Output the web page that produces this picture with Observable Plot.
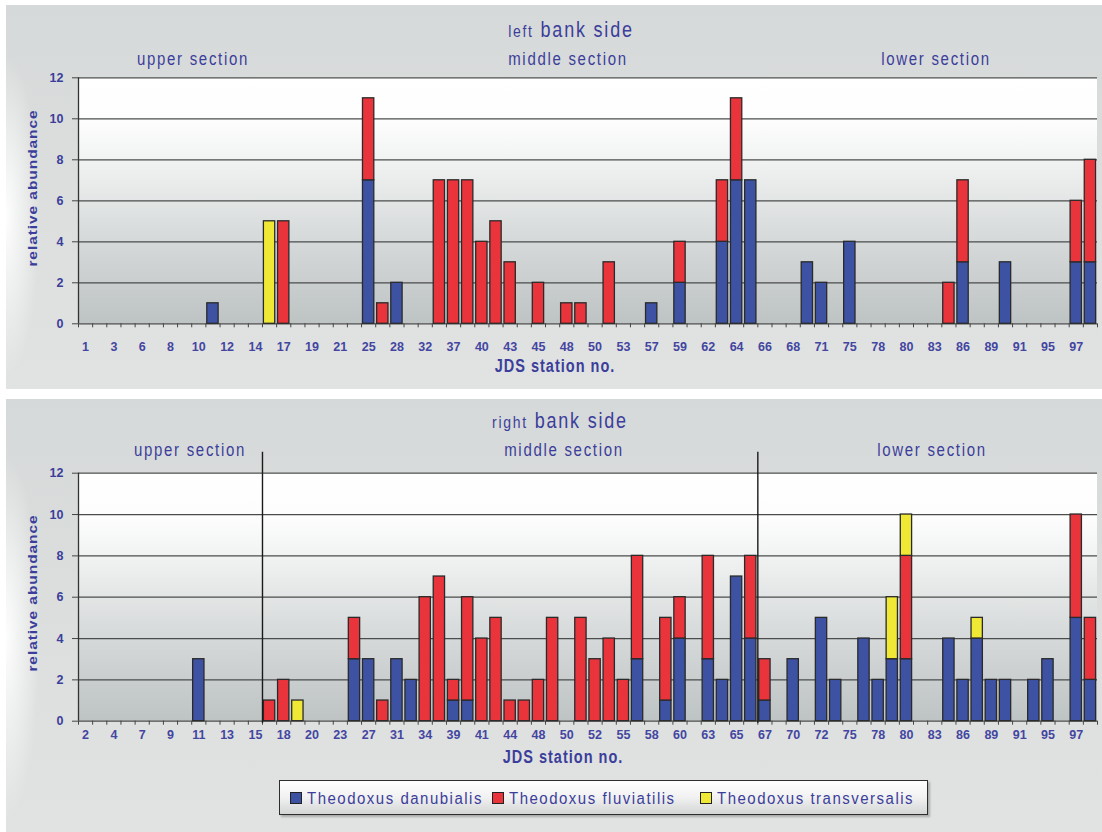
<!DOCTYPE html>
<html><head><meta charset="utf-8">
<script src="https://cdn.jsdelivr.net/npm/d3@7"></script>
<script src="https://cdn.jsdelivr.net/npm/@observablehq/plot@0.6"></script>
<style>
html,body{margin:0;padding:0;background:#fff;}
body{width:1102px;height:832px;position:relative;overflow:hidden;font-family:"Liberation Sans",Arial,sans-serif;color:#3b3e9a;}
.panel{position:absolute;left:6px;width:1096px;
  background:
    radial-gradient(ellipse 34px 42% at 0% 55%, rgba(255,255,255,0.95), rgba(255,255,255,0)),
    linear-gradient(180deg,#d6d9d9 0%,#dcdede 45%,#e1e2e2 100%);}
.panel svg{position:absolute;left:0;top:0;}
.t{position:absolute;white-space:nowrap;line-height:1;letter-spacing:1.7px;transform:translate(-50%,-50%) scaleY(1.2);}
.sec{font-size:15px;}
.ttl{font-size:18px;letter-spacing:1.8px;}
.ax{font-size:14.5px;font-weight:bold;letter-spacing:1px;transform:translate(-50%,-50%) scaleY(1.3);}
.yt{position:absolute;white-space:nowrap;line-height:1;font-size:13.5px;font-weight:bold;letter-spacing:0.8px;transform:translate(-50%,-50%) rotate(-90deg) scaleX(1.15);}
#legend{position:absolute;left:279px;top:780px;width:647px;height:33px;border:1.5px solid #2e2e2e;
  background:linear-gradient(180deg,#ffffff 0%,#f1f1f1 50%,#d4d5d5 100%);box-shadow:2px 2px 2px rgba(0,0,0,0.25);}
.li{position:absolute;top:0;height:33px;display:flex;align-items:center;font-size:15px;letter-spacing:1.5px;white-space:nowrap;}
.sw{width:10px;height:10px;border:1px solid #222;margin-right:5px;}
.li span{display:inline-block;transform:scaleY(1.15);}
</style>
</head><body>
<script>
// ---------- data ----------
const species = ["Theodoxus danubialis", "Theodoxus fluviatilis", "Theodoxus transversalis"];
const speciesColors = ["#3d52a3", "#e9343c", "#efe936"];
const yTicks = [0, 2, 4, 6, 8, 10, 12];

// left bank side
const leftStations = ["1","2","3","5","6","7","8","9","10","11","12","13",
  "14","15","17","18","19","20","21","23","25","26","28","30",
  "32","35","37","38","40","41","43","44","45","47","48","49",
  "50","52","53","55","57","58","59","60","62","63","64","65",
  "66","67","68","70","71","73","75","77","78","79","80","81",
  "83","84","86","87","89","90","91","92","95","96","97","98"];
const leftTickLabels = ["1","3","6","8","10","12","14","17","19","21","25","28","32","37","40","43","45","48",
  "50","53","57","59","62","64","66","68","71","75","78","80","83","86","89","91","95","97"];
const leftDanubialis = [0,0,0,0,0,0,0,0,0,1,0,0, 0,0,0,0,0,0,0,0,7,0,2,0, 0,0,0,0,0,0,0,0,0,0,0,0,
  0,0,0,0,1,0,2,0,0,4,7,7, 0,0,0,3,2,0,4,0,0,0,0,0, 0,0,3,0,0,3,0,0,0,0,3,3];
const leftFluviatilis = [0,0,0,0,0,0,0,0,0,0,0,0, 0,0,5,0,0,0,0,0,4,1,0,0, 0,7,7,7,4,5,3,0,2,0,1,1,
  0,3,0,0,0,0,2,0,0,3,4,0, 0,0,0,0,0,0,0,0,0,0,0,0, 0,2,4,0,0,0,0,0,0,0,3,5];
const leftTransversalis = [0,0,0,0,0,0,0,0,0,0,0,0, 0,5,0,0,0,0,0,0,0,0,0,0, 0,0,0,0,0,0,0,0,0,0,0,0,
  0,0,0,0,0,0,0,0,0,0,0,0, 0,0,0,0,0,0,0,0,0,0,0,0, 0,0,0,0,0,0,0,0,0,0,0,0];

// right bank side
const rightStations = ["2","3","4","6","7","8","9","10","11","12","13","14",
  "15","17","18","19","20","21","23","25","27","28","31","32",
  "34","37","39","40","41","42","44","45","48","49","50","51",
  "52","53","55","57","58","59","60","62","63","64","65","66",
  "67","68","70","71","72","73","75","77","78","79","80","81",
  "83","84","86","87","89","90","91","92","95","96","97","98"];
const rightTickLabels = ["2","4","7","9","11","13","15","18","20","23","27","31","34","39","41","44","48","50",
  "52","55","58","60","63","65","67","70","72","75","78","80","83","86","89","91","95","97"];
const rightDanubialis = [0,0,0,0,0,0,0,0,3,0,0,0, 0,0,0,0,0,0,0,3,3,0,3,2, 0,0,1,1,0,0,0,0,0,0,0,0,
  0,0,0,3,0,1,4,0,3,2,7,4, 1,0,3,0,5,2,0,4,2,3,3,0, 0,4,2,4,2,2,0,2,3,0,5,2];
const rightFluviatilis = [0,0,0,0,0,0,0,0,0,0,0,0, 0,1,2,0,0,0,0,2,0,1,0,0, 6,7,1,5,4,5,1,1,2,5,0,5,
  3,4,2,5,0,4,2,0,5,0,0,4, 2,0,0,0,0,0,0,0,0,0,5,0, 0,0,0,0,0,0,0,0,0,0,5,3];
const rightTransversalis = [0,0,0,0,0,0,0,0,0,0,0,0, 0,0,0,1,0,0,0,0,0,0,0,0, 0,0,0,0,0,0,0,0,0,0,0,0,
  0,0,0,0,0,0,0,0,0,0,0,0, 0,0,0,0,0,0,0,0,0,3,2,0, 0,0,0,1,0,0,0,0,0,0,0,0];
const rightSectionStarts = ["17", "67"];

// ---------- drawing ----------
const textColor = "#3b3e9a";

function plotBackground(id) {
  return (index, scales, values, dims) => {
    const g = d3.create("svg:g");
    const grad = g.append("defs").append("linearGradient").attr("id", id)
      .attr("x1", 0).attr("y1", 0).attr("x2", 0).attr("y2", 1);
    [[0, "#ffffff"], [0.18, "#fdfdfd"], [0.4, "#eceeee"], [0.62, "#d9dcdc"], [1, "#bec3c3"]]
      .forEach(([o, c]) => grad.append("stop").attr("offset", o).attr("stop-color", c));
    g.append("rect")
      .attr("x", dims.marginLeft).attr("y", dims.marginTop)
      .attr("width", dims.width - dims.marginLeft - dims.marginRight)
      .attr("height", dims.height - dims.marginTop - dims.marginBottom)
      .attr("fill", `url(#${id})`);
    return g.node();
  };
}

function drawPanel(cfg) {
  const {stations, ticks, series, id, height, mt, mb, labelPad, sectionStarts} = cfg;
  const rows = [];
  stations.forEach((st, i) => series.forEach((arr, k) => {
    if (arr[i] > 0) rows.push({station: st, species: species[k], value: arr[i]});
  }));
  const width = 1096, ml = 72, mr = 5;
  const step = (width - ml - mr) / stations.length;
  return Plot.plot({
    width, height, marginLeft: ml, marginRight: mr, marginTop: mt, marginBottom: mb,
    style: {background: "transparent", fontFamily: "'Liberation Sans', Arial, sans-serif", overflow: "visible"},
    x: {type: "band", domain: stations, paddingInner: 0.2, paddingOuter: 0.1, round: false},
    y: {domain: [0, 12]},
    color: {domain: species, range: speciesColors},
    marks: [
      plotBackground(id),
      Plot.ruleY(yTicks, {stroke: "#4b4d4d", strokeWidth: 1.3}),
      Plot.ruleX(stations.slice(0, 1), {x: d => d, dx: -step / 2, y1: 12, y2: 0, stroke: "#333", strokeWidth: 1.3}),
      Plot.barY(rows, Plot.stackY({x: "station", y: "value", fill: "species", stroke: "#2a2a2a", strokeWidth: 1.3})),
      Plot.ruleX(stations, {x: d => d, dx: -step / 2, y1: 0, y2: 0, insetBottom: -4, stroke: "#444"}),
      Plot.ruleX(stations.slice(-1), {x: d => d, dx: step / 2, y1: 0, y2: 0, insetBottom: -4, stroke: "#444"}),
      sectionStarts ? Plot.ruleX(sectionStarts, {x: d => d, dx: -step / 2, y1: 12, y2: 0, insetTop: -21, insetBottom: -2, stroke: "#1a1a1a", strokeWidth: 1.4}) : null,
      Plot.axisY({ticks: yTicks, tickSize: 6, tickPadding: 9, color: textColor, stroke: "#444", fontSize: 12.5, fontWeight: "bold", label: null}),
      Plot.axisX({ticks, tickSize: 0, tickPadding: labelPad, color: "#4346a0", fontSize: 12.5, fontWeight: "bold", label: null})
    ]
  });
}

function addText(parent, cls, html, x, y) {
  const d = document.createElement("div");
  d.className = cls;
  d.innerHTML = html;
  d.style.left = x + "px";
  d.style.top = y + "px";
  parent.appendChild(d);
}

// top panel
const p1 = document.createElement("div");
p1.className = "panel";
p1.style.top = "5px"; p1.style.height = "384px";
document.body.appendChild(p1);
p1.appendChild(drawPanel({stations: leftStations, ticks: leftTickLabels,
  series: [leftDanubialis, leftFluviatilis, leftTransversalis], id: "bgL",
  height: 384, mt: 72.3, mb: 65.7, labelPad: 18.5}));

// bottom panel
const p2 = document.createElement("div");
p2.className = "panel";
p2.style.top = "399px"; p2.style.height = "433px";
document.body.appendChild(p2);
p2.appendChild(drawPanel({stations: rightStations, ticks: rightTickLabels,
  series: [rightDanubialis, rightFluviatilis, rightTransversalis], id: "bgR",
  height: 340, mt: 73.7, mb: 18.3, labelPad: 8.5, sectionStarts: rightSectionStarts}));

// texts (page coordinates)
const B = document.body;
addText(B, "t ttl", '<span style="font-size:14px;letter-spacing:1.7px">left</span> bank side', 571, 30);
addText(B, "t sec", "upper section", 193, 58);
addText(B, "t sec", "middle section", 568, 58);
addText(B, "t sec", "lower section", 936, 58);
addText(B, "t ax", "JDS station no.", 555, 366);
addText(B, "yt", "relative abundance", 33, 188);

addText(B, "t ttl", '<span style="font-size:14px;letter-spacing:1.7px">right</span> bank side', 560, 421);
addText(B, "t sec", "upper section", 190, 449);
addText(B, "t sec", "middle section", 564, 449);
addText(B, "t sec", "lower section", 932, 449);
addText(B, "t ax", "JDS station no.", 563, 757);
addText(B, "yt", "relative abundance", 33, 593);

// legend
const lg = document.createElement("div");
lg.id = "legend";
B.appendChild(lg);
const legendLeft = [10, 212, 420];
species.forEach((s, k) => {
  const it = document.createElement("div");
  it.className = "li";
  it.style.left = legendLeft[k] + "px";
  it.innerHTML = `<div class="sw" style="background:${speciesColors[k]}"></div><span>${s}</span>`;
  lg.appendChild(it);
});
</script>
</body></html>
